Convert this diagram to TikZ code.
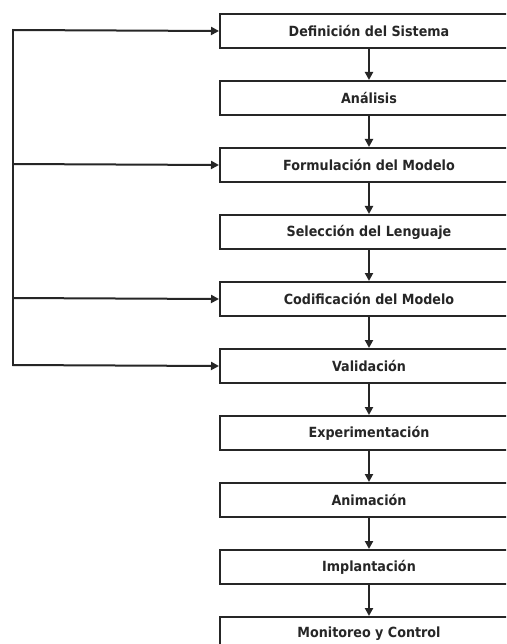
\documentclass[tikz,border=0pt]{standalone}
\usepackage{fontspec}
\newfontfamily\boxfont[FakeStretch=0.91]{DejaVu Sans Bold}
\usetikzlibrary{arrows.meta}
\begin{document}
\begin{tikzpicture}[x=1pt,y=-1pt,
  stepbox/.style={draw=black!85,line width=2pt,minimum width=298pt,minimum height=34pt,inner sep=0pt,anchor=north west,font=\boxfont\fontsize{14}{16}\selectfont,text=black!85},
  conn/.style={line width=2pt,draw=black!85,-{Triangle[length=8pt,width=8pt]}}]
\useasboundingbox (0,0) rectangle (506,644);
\clip (0,0) rectangle (506,644);
\fill[white] (0,0) rectangle (506,644);
\node[stepbox] (b1) at (219,13) {Definición del Sistema};
\node[stepbox] (b2) at (219,80) {Análisis};
\node[stepbox] (b3) at (219,147) {Formulación del Modelo};
\node[stepbox] (b4) at (219,214) {Selección del Lenguaje};
\node[stepbox] (b5) at (219,281) {Codificación del Modelo};
\node[stepbox] (b6) at (219,348) {Validación};
\node[stepbox] (b7) at (219,415) {Experimentación};
\node[stepbox] (b8) at (219,482) {Animación};
\node[stepbox] (b9) at (219,549) {Implantación};
\node[stepbox] (b10) at (219,616) {Monitoreo y Control};
\foreach \a/\b in {b1/b2,b2/b3,b3/b4,b4/b5,b5/b6,b6/b7,b7/b8,b8/b9,b9/b10}
  \draw[conn] (\a.south) -- (\b.north);
\coordinate (top) at (12.5,30);
\coordinate (bot) at (12.5,365);
\coordinate (m3) at (12.5,164);
\coordinate (m5) at (12.5,298);
\draw[line width=2pt,draw=black!85,line cap=rect] (top) -- (bot);
\draw[conn] (top) -- (b1.west);
\draw[conn] (m3) -- (b3.west);
\draw[conn] (m5) -- (b5.west);
\draw[conn] (bot) -- (b6.west);
\end{tikzpicture}
\end{document}
